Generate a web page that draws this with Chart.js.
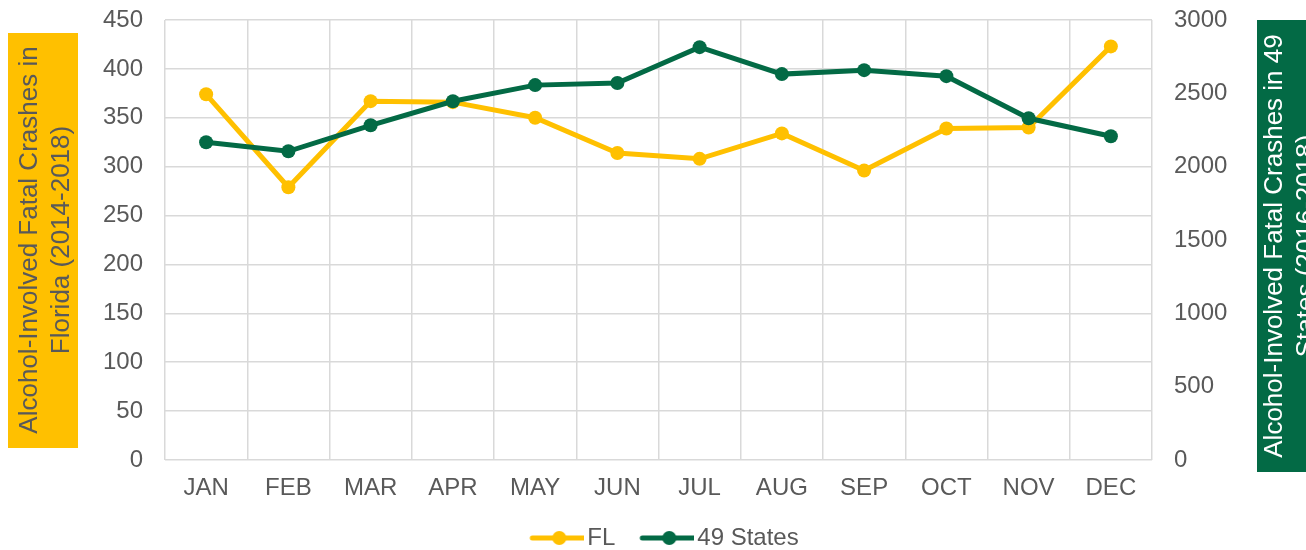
<!DOCTYPE html>
<html>
<head>
<meta charset="utf-8">
<script src="https://cdn.jsdelivr.net/npm/chart.js@4"></script>
<style>
  html, body { margin: 0; padding: 0; background: #fff; }
  #wrap { width: 1306px; height: 550px; }
</style>
</head>
<body>
<div id="wrap"><canvas id="crashChart" width="1306" height="550"></canvas></div>
<script>
// dati
const months = ['JAN', 'FEB', 'MAR', 'APR', 'MAY', 'JUN', 'JUL', 'AUG', 'SEP', 'OCT', 'NOV', 'DEC'];
const flCrashes = [374, 279, 367, 366, 350, 314, 308, 334, 296, 339, 340, 423];
const statesCrashes = [2166, 2105, 2282, 2446, 2556, 2570, 2815, 2631, 2658, 2617, 2330, 2207];
const leftTitle = ['Alcohol-Involved Fatal Crashes in', 'Florida (2014-2018)'];
const rightTitle = ['Alcohol-Involved Fatal Crashes in 49', 'States (2016-2018)'];

const YELLOW = '#FFC000';
const GREEN = '#036A45';
const GREY = '#595959';
const FONT = "'Liberation Sans', Arial, sans-serif";

// icona legenda: linea con punto (spostata a destra per lo spazio tra le voci)
function legendIcon(color) {
    const c = document.createElement('canvas');
    c.width = 86;
    c.height = 16;
    const g = c.getContext('2d');
    g.strokeStyle = color;
    g.lineWidth = 5;
    g.lineCap = 'round';
    g.beginPath();
    g.moveTo(34, 8);
    g.lineTo(86, 8);
    g.stroke();
    g.fillStyle = color;
    g.beginPath();
    g.arc(61, 8, 7, 0, Math.PI * 2);
    g.fill();
    return c;
}

// titoli degli assi con sfondo colorato
const axisTitles = {
    id: 'axisTitles',
    afterDraw(chart) {
        const ctx = chart.ctx;
        ctx.save();
        ctx.font = '26px ' + FONT;
        ctx.textAlign = 'center';
        ctx.textBaseline = 'middle';

        // sinistra
        ctx.fillStyle = YELLOW;
        ctx.fillRect(8, 33, 70, 415);
        ctx.save();
        ctx.translate(46, 240);
        ctx.rotate(-Math.PI / 2);
        ctx.fillStyle = GREY;
        ctx.fillText(leftTitle[0], 0, -16);
        ctx.fillText(leftTitle[1], 0, 16);
        ctx.restore();

        // destra
        ctx.fillStyle = GREEN;
        ctx.fillRect(1257, 20, 60, 452);
        ctx.save();
        ctx.translate(1291, 246);
        ctx.rotate(-Math.PI / 2);
        ctx.fillStyle = '#ffffff';
        ctx.fillText(rightTitle[0], 0, -16);
        ctx.fillText(rightTitle[1], 0, 16);
        ctx.restore();
        ctx.restore();
    }
};

// niente padding extra dalle etichette degli assi
function fixY(width) {
    return function(scale) {
        scale.width = width;
        scale.paddingTop = 0;
        scale.paddingBottom = 0;
    };
}

document.addEventListener('DOMContentLoaded', function() {
    const ctx = document.getElementById('crashChart').getContext('2d');

    const data = {
        labels: months,
        datasets: [{
            label: 'FL',
            data: flCrashes,
            borderColor: YELLOW,
            backgroundColor: YELLOW,
            borderWidth: 5,
            pointRadius: 7,
            pointHoverRadius: 7,
            pointBorderWidth: 0,
            tension: 0,
            yAxisID: 'y',
            order: 1
        }, {
            label: '49 States',
            data: statesCrashes,
            borderColor: GREEN,
            backgroundColor: GREEN,
            borderWidth: 5,
            pointRadius: 7,
            pointHoverRadius: 7,
            pointBorderWidth: 0,
            tension: 0,
            yAxisID: 'y1',
            order: 0
        }]
    };

    const tickFont = { family: FONT, size: 24 };

    const options = {
        responsive: false,
        animation: false,
        layout: { padding: { top: 20, left: 0, right: 0, bottom: -10 } },
        plugins: {
            tooltip: { enabled: false },
            legend: {
                position: 'bottom',
                labels: {
                    font: tickFont,
                    color: GREY,
                    usePointStyle: true,
                    pointStyleWidth: 68,
                    padding: 2,
                    sort: (a, b) => a.datasetIndex - b.datasetIndex,
                    generateLabels: function(chart) {
                        const items = Chart.defaults.plugins.legend.labels.generateLabels(chart);
                        items.forEach(function(it) {
                            it.pointStyle = legendIcon(chart.data.datasets[it.datasetIndex].borderColor);
                        });
                        return items;
                    }
                }
            }
        },
        scales: {
            x: {
                offset: true,
                grid: { offset: true, color: '#D9D9D9', lineWidth: 1.5, drawTicks: false },
                border: { display: false },
                ticks: { font: tickFont, color: GREY, padding: 14, maxRotation: 0 },
                afterFit: function(scale) {
                    scale.height = 64;
                    scale.paddingLeft = 0;
                    scale.paddingRight = 0;
                }
            },
            y: {
                position: 'left',
                min: 0,
                max: 450,
                ticks: { stepSize: 50, font: tickFont, color: GREY, padding: 22 },
                grid: { color: '#D9D9D9', lineWidth: 1.5, drawTicks: false },
                border: { display: false },
                afterFit: fixY(165)
            },
            y1: {
                position: 'right',
                min: 0,
                max: 3000,
                ticks: {
                    stepSize: 500,
                    font: tickFont,
                    color: GREY,
                    padding: 22,
                    callback: function(v) { return String(v); }
                },
                grid: { display: false, drawTicks: false },
                border: { display: false },
                afterFit: fixY(154)
            }
        }
    };

    new Chart(ctx, {
        type: 'line',
        data: data,
        options: options,
        plugins: [axisTitles]
    });
});
</script>
</body>
</html>
